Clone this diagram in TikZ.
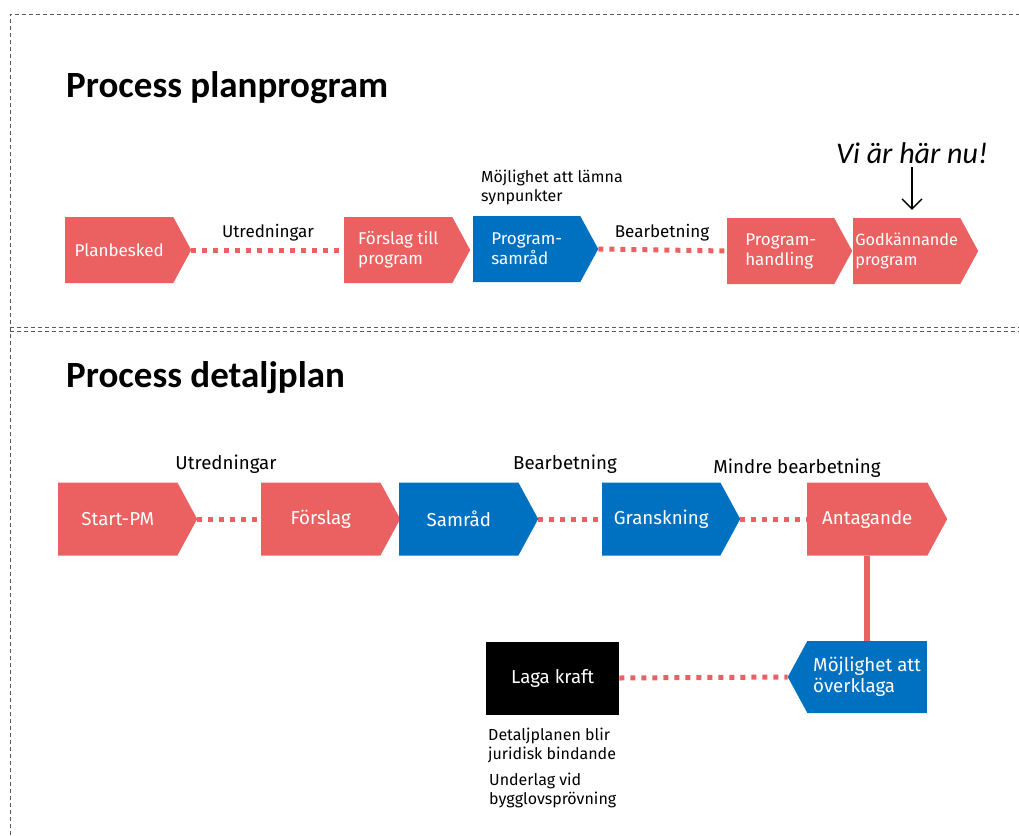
\documentclass[tikz,border=0pt]{standalone}
\usepackage{fontspec}
\setmainfont{Fira Sans}
\newfontfamily\titlefont{Carlito}
\usetikzlibrary{shapes.symbols,arrows.meta}

\definecolor{planred}{RGB}{235,97,97}
\definecolor{planblue}{RGB}{0,112,192}

\tikzset{
  stepred/.style={shape=signal, signal to=east, signal from=nowhere, signal pointer angle=123,
    fill=planred, text=white, anchor=west, inner sep=0pt, align=left,
    font=\fontsize{17}{20}\selectfont},
  stepblue/.style={stepred, fill=planblue},
  bigtext/.style={font=\fontsize{18.7}{21}\selectfont},
  dotline/.style={planred, line width=5pt, dash pattern=on 5pt off 6pt},
  steplabel/.style={anchor=base, inner sep=0pt, font=\fontsize{17}{20}\selectfont},
  notetext/.style={anchor=north west, inner sep=0pt, align=left, font=\fontsize{16}{19}\selectfont},
  frameline/.style={gray!70!black, line width=0.9pt, dash pattern=on 4pt off 3pt}
}

\begin{document}
\begin{tikzpicture}[x=1pt,y=-1pt]
\useasboundingbox (0,0) rectangle (1019,835);

%% frame
\draw[frameline] (10,835) -- (10,14) -- (1019,14);
\draw[frameline] (10,327) -- (1019,327);
\draw[frameline] (10,331) -- (1019,331);

%% titles
\node[anchor=base west, inner sep=0pt, font=\titlefont\bfseries\fontsize{37}{42}\selectfont] (title1) at (66,97) {Process planprogram};
\node[anchor=base west, inner sep=0pt, font=\titlefont\bfseries\fontsize{37}{42}\selectfont] (title2) at (66,387) {Process detaljplan};

%% planprogram steps
\node[stepred, minimum width=126, minimum height=66]  (planb)  at (65,250)  {Planbesked};
\node[stepred, minimum width=126, minimum height=66]  (forsp)  at (344,250) {Förslag till\\program};
\node[stepblue, minimum width=125, minimum height=66] (psamr)  at (473,249) {Program-\\samråd};
\node[stepred, minimum width=125, minimum height=66]  (phand)  at (727,251) {Program-\\handling};
\node[stepred, minimum width=125, minimum height=66, font=\fontsize{16.3}{20}\selectfont] (godk) at (853,251) {Godkännande\\program};

%% planprogram labels
\node[steplabel] (utr1) at (268,237) {Utredningar};
\node[steplabel] (bea1) at (662,237) {Bearbetning};
\node[notetext] (synp) at (481,170) {Möjlighet att lämna\\synpunkter};
\node[anchor=base, inner sep=0pt, font=\titlefont\itshape\fontsize{30}{34}\selectfont] (here) at (912,163) {Vi är här nu!};

%% planprogram connectors
\draw[dotline] (planb.east) -- (forsp.west);
\draw[dotline] (psamr.east) -- (phand.west);
\draw[-{Straight Barb[length=10pt,width=20pt]}, line width=1.4pt] ([yshift=-4pt]here.south) -- ([yshift=8pt]here.south |- godk.north);

%% detaljplan steps
\node[stepred, bigtext, minimum width=139, minimum height=73]  (start)  at (58,519)  {Start-PM};
\node[stepred, bigtext, minimum width=139, minimum height=73]  (forsl)  at (261,519) {Förslag};
\node[stepblue, bigtext, minimum width=139, minimum height=73] (samr)   at (399,519) {Samråd};
\node[stepblue, bigtext, minimum width=138, minimum height=73] (gransk) at (602,519) {Granskning};
\node[stepred, bigtext, minimum width=140, minimum height=73]  (antag)  at (807,519) {Antagande};
\node[stepblue, bigtext, signal to=west, anchor=east, minimum width=139, minimum height=72] (overkl) at (927,677) {Möjlighet att\\överklaga};
\node[fill=black, text=white, bigtext, minimum width=133, minimum height=73, anchor=west, inner sep=0pt] (laga) at (486,678) {Laga kraft};

%% detaljplan labels
\node[steplabel, bigtext] (utr2) at (226,469) {Utredningar};
\node[steplabel, bigtext] (bea2) at (565,469) {Bearbetning};
\node[steplabel, bigtext] (mbea) at (797,473) {Mindre bearbetning};
\node[notetext] (jur) at (488,728) {Detaljplanen blir\\juridisk bindande};
\node[notetext] (bygg) at (489,773) {Underlag vid\\bygglovsprövning};

%% detaljplan connectors
\draw[dotline] (start.east) -- (forsl.west);
\draw[dotline] (samr.east) -- (gransk.west);
\draw[dotline] (gransk.east) -- (antag.west);
\draw[planred, line width=6pt] (antag.south) -- (antag.south |- overkl.north);
\draw[dotline] (laga.east) -- (overkl.west);
\end{tikzpicture}
\end{document}
